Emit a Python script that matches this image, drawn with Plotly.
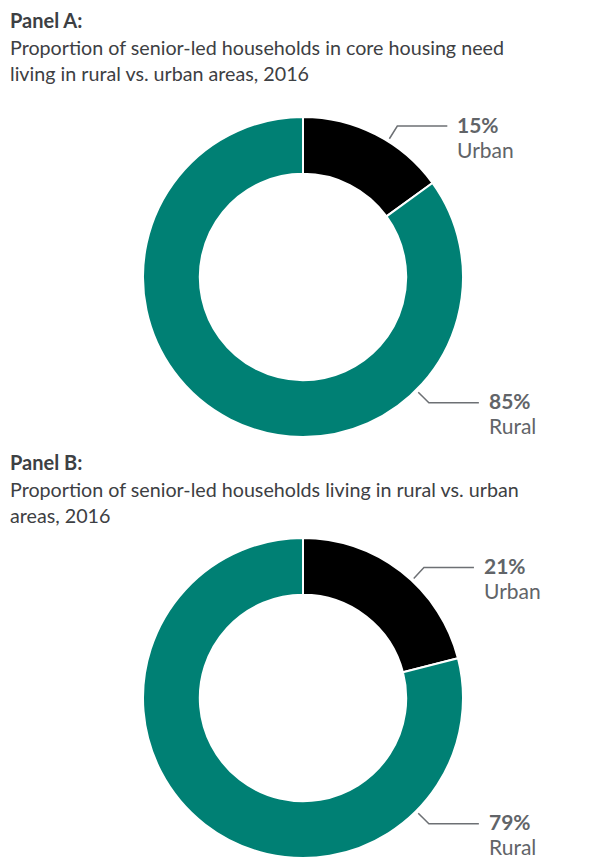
import math
import plotly.graph_objects as go

# ---- data ----
categories = ["Urban", "Rural"]
panel_a_values = [15, 85]
panel_b_values = [21, 79]
panel_titles = ["Panel A:", "Panel B:"]
panel_subtitles = [
    "Proportion of senior-led households in core housing need<br>living in rural vs. urban areas, 2016",
    "Proportion of senior-led households living in rural vs. urban<br>areas, 2016",
]

# page body has an 8px margin; work in window pixels and shift
OFF = 8
W, H = 592 - OFF, 859 - OFF
colors = ["#000000", "#008074"]
title_color = "#3d4043"
label_color = "#616468"
FONT = "Lato"

# layout geometry (window pixels)
panels = [
    dict(values=panel_a_values, cx=303, cy=277, r=160, title_y=20),
    dict(values=panel_b_values, cx=303, cy=698, r=160, title_y=462),
]

def px(x):
    return (x - OFF) / W

def py(y):
    return 1 - (y - OFF) / H

fig = go.Figure()
annotations = []
shapes = []

for i, p in enumerate(panels):
    cx, cy, r = p["cx"], p["cy"], p["r"]
    fig.add_trace(go.Pie(
        labels=categories, values=p["values"], sort=False, direction="clockwise",
        rotation=0, hole=0.645, textinfo="none", hoverinfo="label+percent",
        marker=dict(colors=colors, line=dict(color="white", width=2)),
        domain=dict(x=[px(cx - r), px(cx + r)], y=[py(cy + r), py(cy - r)]),
        showlegend=False,
    ))
    # titles
    annotations.append(dict(text="<b>" + panel_titles[i] + "</b>", x=px(8), y=py(p["title_y"]),
                            xref="paper", yref="paper", xanchor="left", yanchor="middle",
                            showarrow=False, font=dict(size=20, color=title_color, family=FONT)))
    annotations.append(dict(text=panel_subtitles[i], x=px(8), y=py(p["title_y"] + 14),
                            xref="paper", yref="paper", xanchor="left", yanchor="top",
                            align="left", showarrow=False,
                            font=dict(size=19.7, color=title_color, family=FONT)))
    # leader lines + labels
    total = sum(p["values"])
    urban_mid = p["values"][0] / total * 360 / 2 + 5
    angles = [urban_mid, 135]
    for j, ang in enumerate(angles):
        a = math.radians(ang)
        sx, sy = cx + 163 * math.sin(a), cy - 163 * math.cos(a)
        ex, ey = cx + 178 * math.sin(a), cy - 178 * math.cos(a)
        hx = ex + 50
        shapes.append(dict(type="path", xref="paper", yref="paper",
                           path=f"M {px(sx)},{py(sy)} L {px(ex)},{py(ey)} L {px(hx)},{py(ey)}",
                           line=dict(color="#6d7074", width=1.5)))
        pct = round(p["values"][j] / total * 100)
        annotations.append(dict(text=f"<b>{pct}%</b>", x=px(hx + 8), y=py(ey - 2),
                                xref="paper", yref="paper", xanchor="left", yanchor="middle",
                                showarrow=False, font=dict(size=21, color=label_color, family=FONT)))
        annotations.append(dict(text=categories[j], x=px(hx + 8), y=py(ey + 23),
                                xref="paper", yref="paper", xanchor="left", yanchor="middle",
                                showarrow=False, font=dict(size=21, color=label_color, family=FONT)))

fig.update_layout(
    width=W, height=H, margin=dict(l=0, r=0, t=0, b=0),
    paper_bgcolor="white", plot_bgcolor="white",
    annotations=annotations, shapes=shapes,
)

fig.write_html("out.html")
